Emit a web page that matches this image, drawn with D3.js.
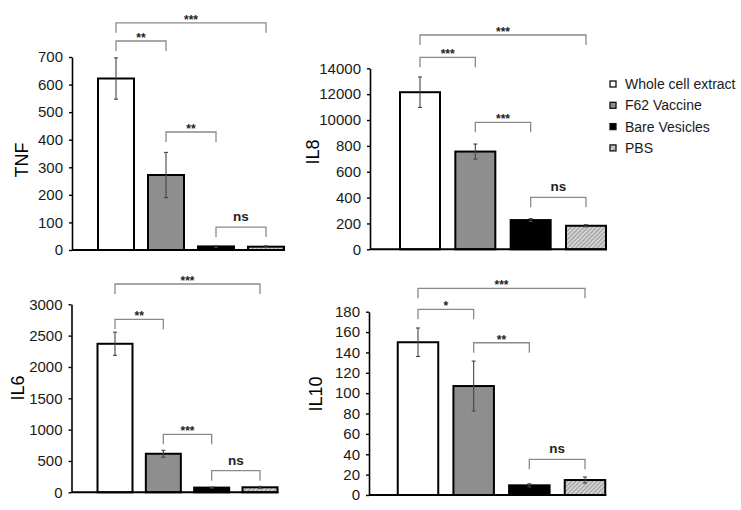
<!DOCTYPE html>
<html>
<head>
<meta charset="utf-8">
<script src="https://cdn.jsdelivr.net/npm/d3@7"></script>
<style>
  body { margin: 0; background: #fff; }
  svg text { font-family: Arial, "Liberation Sans", sans-serif; }
</style>
</head>
<body>
<svg id="chart" width="741" height="510"></svg>
<script>
// groups shown in every panel
const groups = ["Whole cell extract", "F62 Vaccine", "Bare Vesicles", "PBS"];

// TNF
const tnfValues = [622, 272, 13, 12];
const tnfErrors = [75, 82, 3, 3];
const tnfTicks = [0, 100, 200, 300, 400, 500, 600, 700];
const tnfBrackets = [[0, 3, 824, "***"], [0, 1, 758, "**"], [1, 2, 428, "**"], [2, 3, 83, "ns"]];

// IL8 (tick labels are printed as in the figure)
const il8Values = [12150, 7560, 2260, 1820];
const il8Errors = [1180, 580, 110, 80];
const il8Ticks = [0, 2000, 4000, 6000, 8000, 10000, 12000, 14000];
const il8TickLabels = ["0", "200", "400", "600", "800", "10000", "12000", "14000"];
const il8Brackets = [[0, 3, 16575, "***"], [0, 1, 14850, "***"], [1, 2, 9823, "***"], [2, 3, 4022, "ns"]];

// IL6
const il6Values = [2370, 615, 75, 80];
const il6Errors = [185, 55, 8, 15];
const il6Ticks = [0, 500, 1000, 1500, 2000, 2500, 3000];
const il6Brackets = [[0, 3, 3324, "***"], [0, 1, 2761, "**"], [1, 2, 925, "***"], [2, 3, 345, "ns"]];

// IL10
const il10Values = [150, 107, 9.5, 14.7];
const il10Errors = [14, 24.5, 1.5, 3];
const il10Ticks = [0, 20, 40, 60, 80, 100, 120, 140, 160, 180];
const il10Brackets = [[0, 3, 203, "***"], [0, 1, 182.3, "*"], [1, 2, 149.5, "**"], [2, 3, 35, "ns"]];

const svg = d3.select("#chart");
const font = 'Arial, "Liberation Sans", sans-serif';

const defs = svg.append("defs");
const pat = defs.append("pattern")
  .attr("id", "hatch")
  .attr("patternUnits", "userSpaceOnUse")
  .attr("width", 3)
  .attr("height", 3)
  .attr("patternTransform", "rotate(45)");
pat.append("rect").attr("width", 3).attr("height", 3).attr("fill", "#d2d2d2");
pat.append("line")
  .attr("x1", 0).attr("y1", 0).attr("x2", 0).attr("y2", 3)
  .attr("stroke", "#6e6e6e").attr("stroke-width", 1.1);

const fills = ["#ffffff", "#8e8e8e", "#000000", "url(#hatch)"];

const panels = [
  { name: "TNF", values: tnfValues, errors: tnfErrors, ticks: tnfTicks, brackets: tnfBrackets,
    max: 700, axisX: 72, top: 57, bottom: 250, first: 116, last: 266, barW: 36, labelX: 22, labelY: 160 },
  { name: "IL8", values: il8Values, errors: il8Errors, ticks: il8Ticks, tickLabels: il8TickLabels, brackets: il8Brackets,
    max: 14000, axisX: 370, top: 68.3, bottom: 249.3, first: 420, last: 586, barW: 40, labelX: 313, labelY: 152 },
  { name: "IL6", values: il6Values, errors: il6Errors, ticks: il6Ticks, brackets: il6Brackets,
    max: 3000, axisX: 71.5, top: 304.3, bottom: 492.3, first: 115, last: 260, barW: 35, labelX: 18, labelY: 388 },
  { name: "IL10", values: il10Values, errors: il10Errors, ticks: il10Ticks, brackets: il10Brackets,
    max: 180, axisX: 369, top: 311.7, bottom: 495, first: 418, last: 585, barW: 40.5, labelX: 316, labelY: 394 }
];

function drawPanel(p) {
  const y = d3.scaleLinear().domain([0, p.max]).range([p.bottom, p.top]);
  const x = d3.scalePoint().domain(groups).range([p.first, p.last]);
  const g = svg.append("g");

  // bars
  g.selectAll("rect.bar")
    .data(p.values)
    .join("rect")
    .attr("class", "bar")
    .attr("x", (d, i) => x(groups[i]) - p.barW / 2)
    .attr("y", d => y(d))
    .attr("width", p.barW)
    .attr("height", d => p.bottom - y(d))
    .attr("fill", (d, i) => fills[i])
    .attr("stroke", "#000")
    .attr("stroke-width", 2);

  // error bars
  const eb = g.selectAll("g.err")
    .data(p.values)
    .join("g")
    .attr("class", "err")
    .attr("stroke", "#444")
    .attr("stroke-width", 1.1);
  eb.append("line")
    .attr("x1", (d, i) => x(groups[i]))
    .attr("x2", (d, i) => x(groups[i]))
    .attr("y1", (d, i) => y(d - p.errors[i]))
    .attr("y2", (d, i) => y(d + p.errors[i]));
  [1, -1].forEach(s => {
    eb.append("line")
      .attr("x1", (d, i) => x(groups[i]) - 2)
      .attr("x2", (d, i) => x(groups[i]) + 2)
      .attr("y1", (d, i) => y(d + s * p.errors[i]))
      .attr("y2", (d, i) => y(d + s * p.errors[i]));
  });

  // baseline
  g.append("line")
    .attr("x1", p.axisX)
    .attr("x2", x(groups[3]) + p.barW / 2 + 1)
    .attr("y1", p.bottom)
    .attr("y2", p.bottom)
    .attr("stroke", "#000")
    .attr("stroke-width", 2);

  // y axis
  const axis = d3.axisLeft(y).tickValues(p.ticks).tickSize(3).tickSizeOuter(0).tickPadding(6)
    .tickFormat((d, i) => p.tickLabels ? p.tickLabels[i] : String(d));
  const ag = g.append("g")
    .attr("transform", `translate(${p.axisX},0)`)
    .call(axis)
    .attr("font-family", font)
    .attr("font-size", 15);
  ag.select(".domain").attr("stroke", "#000").attr("stroke-width", 1.6);
  ag.selectAll(".tick line").attr("stroke", "#000").attr("stroke-width", 1.4);
  ag.selectAll(".tick text").attr("fill", "#1a1a1a");

  g.append("text")
    .attr("transform", `translate(${p.labelX},${p.labelY}) rotate(-90)`)
    .attr("text-anchor", "middle")
    .attr("dy", "0.35em")
    .attr("font-size", 18)
    .attr("fill", "#000")
    .text(p.name);

  // significance brackets
  const br = g.selectAll("g.bracket")
    .data(p.brackets)
    .join("g")
    .attr("class", "bracket");
  br.append("path")
    .attr("d", d => {
      const x1 = x(groups[d[0]]), x2 = x(groups[d[1]]), yy = y(d[2]);
      return `M${x1},${yy + 10}V${yy}H${x2}V${yy + 10}`;
    })
    .attr("fill", "none")
    .attr("stroke", "#8a8a8a")
    .attr("stroke-width", 1.3);
  br.append("text")
    .attr("x", d => (x(groups[d[0]]) + x(groups[d[1]])) / 2)
    .attr("y", d => d[3] === "ns" ? y(d[2]) - 6 : y(d[2]) + 1)
    .attr("text-anchor", "middle")
    .attr("font-weight", "bold")
    .attr("font-size", d => d[3] === "ns" ? 13.5 : 12)
    .attr("fill", "#222")
    .text(d => d[3]);
}

panels.forEach(drawPanel);

// legend
const legend = svg.append("g").attr("transform", "translate(610,84)");
const li = legend.selectAll("g")
  .data(groups)
  .join("g")
  .attr("transform", (d, i) => `translate(0,${i * 21.3})`);
li.append("rect")
  .attr("x", 0).attr("y", -3)
  .attr("width", 6).attr("height", 6)
  .attr("fill", (d, i) => fills[i])
  .attr("stroke", "#111")
  .attr("stroke-width", 1.3);
li.append("text")
  .attr("x", 15)
  .attr("dy", "0.35em")
  .attr("font-size", 14)
  .attr("fill", "#1a1a1a")
  .text(d => d);
</script>
</body>
</html>
